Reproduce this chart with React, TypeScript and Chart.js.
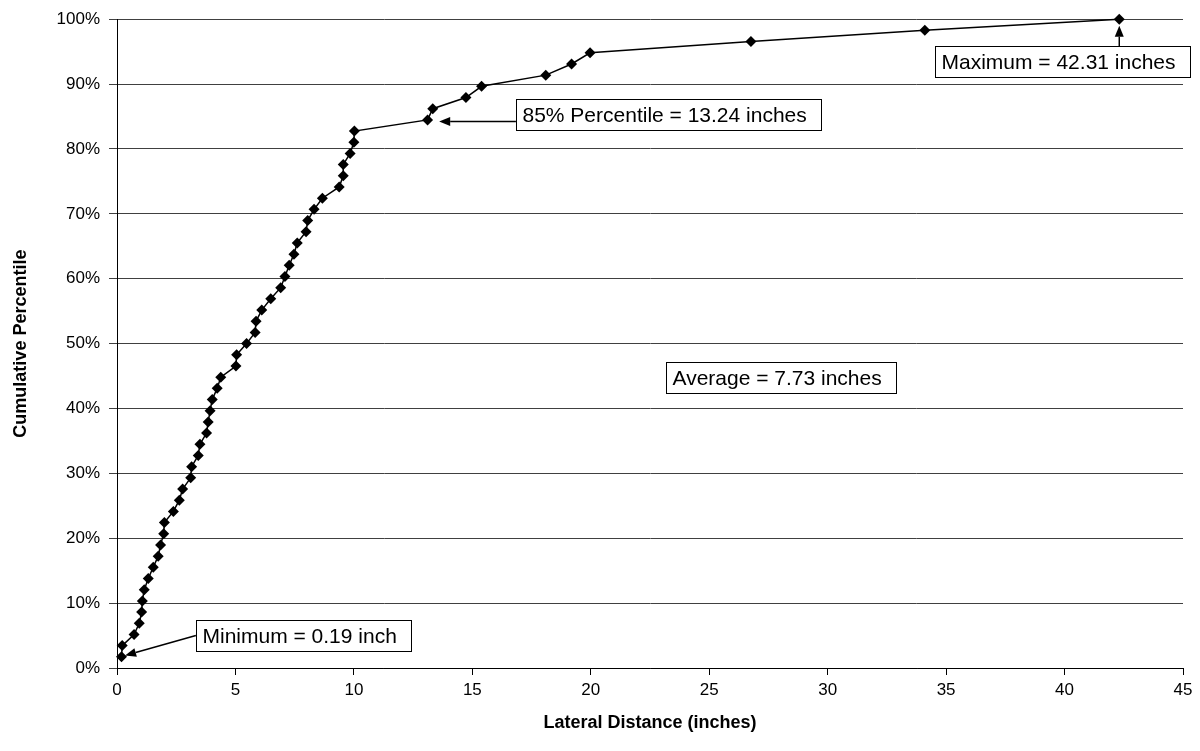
import { useEffect, useRef } from "react";
import { Chart, registerables } from "chart.js";

Chart.register(...registerables);

// Lateral distance (inches), sorted ascending
const distances = [
  0.19, 0.22, 0.72, 0.94, 1.04, 1.07, 1.15, 1.32, 1.53, 1.74,
  1.84, 1.97, 2.0, 2.38, 2.63, 2.77, 3.11, 3.15, 3.43, 3.5,
  3.78, 3.85, 3.93, 4.02, 4.23, 4.38, 5.02, 5.05, 5.47, 5.83,
  5.87, 6.11, 6.49, 6.91, 7.09, 7.27, 7.47, 7.61, 7.98, 8.05,
  8.32, 8.67, 9.38, 9.55, 9.55, 9.84, 10.0, 10.02, 13.11, 13.33,
  14.73, 15.39, 18.1, 19.19, 19.97, 26.76, 34.1, 42.31,
];

// Cumulative percentile (%)
const percentiles = [
  1.72, 3.45, 5.17, 6.9, 8.62, 10.34, 12.07, 13.79, 15.52, 17.24,
  18.97, 20.69, 22.41, 24.14, 25.86, 27.59, 29.31, 31.03, 32.76, 34.48,
  36.21, 37.93, 39.66, 41.38, 43.1, 44.83, 46.55, 48.28, 50.0, 51.72,
  53.45, 55.17, 56.9, 58.62, 60.34, 62.07, 63.79, 65.52, 67.24, 68.97,
  70.69, 72.41, 74.14, 75.86, 77.59, 79.31, 81.03, 82.76, 84.48, 86.21,
  87.93, 89.66, 91.38, 93.1, 94.83, 96.55, 98.28, 100.0,
];

const xTickValues = [0, 5, 10, 15, 20, 25, 30, 35, 40, 45];
const yTickValues = [0, 10, 20, 30, 40, 50, 60, 70, 80, 90, 100];

const annotationTexts = [
  "Minimum = 0.19 inch",
  "85% Percentile = 13.24 inches",
  "Maximum = 42.31 inches",
  "Average = 7.73 inches",
];

const FONT = '"Liberation Sans", Arial, Helvetica, sans-serif';

type Annot = {
  text: string;
  boxX: number; // data x of box left
  boxY: number; // data y of box vertical centre
  arrow?: { fromX: number; fromY: number; toX: number; toY: number; fromTop?: boolean };
};

const annots: Annot[] = [
  { text: annotationTexts[0], boxX: 3.33, boxY: 5.0, arrow: { fromX: 3.33, fromY: 5.0, toX: 0.34, toY: 1.93 } },
  { text: annotationTexts[1], boxX: 16.84, boxY: 85.35, arrow: { fromX: 16.84, fromY: 84.25, toX: 13.6, toY: 84.25 } },
  { text: annotationTexts[2], boxX: 34.53, boxY: 93.45, arrow: { fromX: 42.31, fromY: 0, toX: 42.31, toY: 99.0, fromTop: true } },
  { text: annotationTexts[3], boxX: 23.17, boxY: 44.84 },
];

const BOX_H = 31;
const PAD_L = 6;
const PAD_R = 15;

function drawArrow(ctx: CanvasRenderingContext2D, x1: number, y1: number, x2: number, y2: number) {
  const ang = Math.atan2(y2 - y1, x2 - x1);
  const headLen = 11;
  const headW = 4.5;
  const bx = x2 - headLen * Math.cos(ang);
  const by = y2 - headLen * Math.sin(ang);
  ctx.beginPath();
  ctx.moveTo(x1, y1);
  ctx.lineTo(bx, by);
  ctx.lineWidth = 1.5;
  ctx.strokeStyle = "#000";
  ctx.stroke();
  ctx.beginPath();
  ctx.moveTo(x2, y2);
  ctx.lineTo(bx + headW * Math.sin(ang), by - headW * Math.cos(ang));
  ctx.lineTo(bx - headW * Math.sin(ang), by + headW * Math.cos(ang));
  ctx.closePath();
  ctx.fillStyle = "#000";
  ctx.fill();
}

const annotationPlugin = {
  id: "boxAnnotations",
  afterDatasetsDraw(chart: any) {
    const { ctx } = chart;
    const xs = chart.scales.x;
    const ys = chart.scales.y;
    ctx.save();
    ctx.font = `21px ${FONT}`;
    for (const a of annots) {
      const left = Math.round(xs.getPixelForValue(a.boxX)) + 0.5;
      const cy = ys.getPixelForValue(a.boxY);
      const top = Math.round(cy - BOX_H / 2) + 0.5;
      const w = Math.round(ctx.measureText(a.text).width + PAD_L + PAD_R);
      ctx.fillStyle = "#fff";
      ctx.fillRect(left, top, w, BOX_H);
      ctx.lineWidth = 1;
      ctx.strokeStyle = "#000";
      ctx.strokeRect(left, top, w, BOX_H);
      ctx.fillStyle = "#000";
      ctx.textBaseline = "middle";
      ctx.textAlign = "left";
      ctx.fillText(a.text, left + PAD_L, top + BOX_H / 2 + 1);
      if (a.arrow) {
        const ar = a.arrow;
        const fx = xs.getPixelForValue(ar.fromX);
        const fy = ar.fromTop ? top : ys.getPixelForValue(ar.fromY);
        const tx = xs.getPixelForValue(ar.toX);
        const ty = ys.getPixelForValue(ar.toY);
        drawArrow(ctx, fx, fy, tx, ty);
      }
    }
    ctx.restore();
  },
};

export default function App() {
  const ref = useRef<HTMLCanvasElement | null>(null);

  useEffect(() => {
    document.body.style.margin = "0";
    const canvas = ref.current;
    if (!canvas) return;
    const chart = new Chart(canvas, {
      type: "line",
      data: {
        datasets: [
          {
            data: distances.map((d, i) => ({ x: d, y: percentiles[i] })),
            borderColor: "#000",
            backgroundColor: "#000",
            borderWidth: 1.5,
            pointStyle: "rectRot",
            pointRadius: 5.5,
            pointBackgroundColor: "#000",
            pointBorderColor: "#000",
            pointBorderWidth: 0,
            tension: 0,
            clip: false as any,
          },
        ],
      },
      options: {
        animation: false,
        responsive: false,
        maintainAspectRatio: false,
        events: [],
        layout: { padding: { top: 18, right: 17, bottom: 0, left: 0 } },
        plugins: {
          legend: { display: false },
          tooltip: { enabled: false },
          title: { display: false },
        },
        scales: {
          x: {
            type: "linear",
            min: 0,
            max: 45,
            afterBuildTicks: (scale: any) => {
              scale.ticks = xTickValues.map((v) => ({ value: v }));
            },
            afterFit: (scale: any) => {
              scale.height = 83;
            },
            ticks: {
              color: "#000",
              font: { family: FONT, size: 17 },
              padding: 5,
              maxRotation: 0,
              autoSkip: false,
            },
            grid: {
              display: true,
              drawOnChartArea: false,
              drawTicks: true,
              tickLength: 7,
              color: "#000",
            },
            border: { display: true, color: "#000", width: 1 },
            title: {
              display: true,
              text: "Lateral Distance (inches)",
              color: "#000",
              font: { family: FONT, size: 18, weight: "bold" },
              padding: { top: 0, bottom: 17 },
            },
          },
          y: {
            type: "linear",
            min: 0,
            max: 100,
            afterBuildTicks: (scale: any) => {
              scale.ticks = yTickValues.map((v) => ({ value: v }));
            },
            afterFit: (scale: any) => {
              scale.width = 117;
            },
            ticks: {
              color: "#000",
              font: { family: FONT, size: 17 },
              padding: 9,
              callback: (v: any) => `${v}%`,
            },
            grid: {
              display: true,
              drawOnChartArea: true,
              drawTicks: true,
              tickLength: 8,
              color: "#404040",
              lineWidth: 1,
            },
            border: { display: true, color: "#000", width: 1 },
            title: {
              display: true,
              text: "Cumulative Percentile",
              color: "#000",
              font: { family: FONT, size: 18, weight: "bold" },
              padding: { top: 10, bottom: 0 },
            },
          },
        },
      },
      plugins: [annotationPlugin],
    } as any);
    return () => chart.destroy();
  }, []);

  return (
    <div style={{ position: "absolute", left: 0, top: 0, width: 1200, height: 751, background: "#fff" }}>
      <canvas ref={ref} width={1200} height={751} style={{ display: "block", width: 1200, height: 751 }} />
    </div>
  );
}
